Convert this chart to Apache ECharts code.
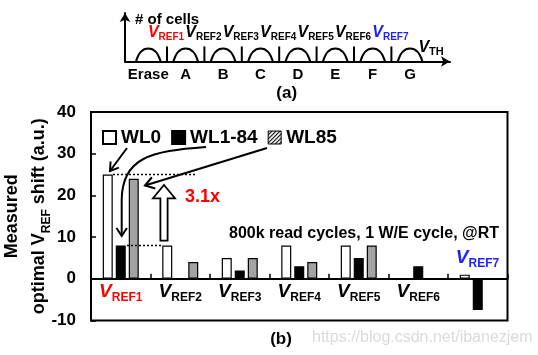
<!DOCTYPE html>
<html><head><meta charset="utf-8">
<script src="https://cdn.jsdelivr.net/npm/echarts@6.0.0/dist/echarts.min.js"></script>
<style>html,body{margin:0;padding:0;background:#fff}#c{width:538px;height:355px}</style>
</head><body><div id="c"></div>
<script>
// ---- data ----
const categories = ['VREF1', 'VREF2', 'VREF3', 'VREF4', 'VREF5', 'VREF6', 'VREF7'];
const wl0 = [25, 8, 5, 8, 8, 0, 1];
const wl1_84 = [8, 0, 2, 3, 5, 3, -7.5];
const wl85 = [24, 4, 5, 4, 8, 0, 0];
const seriesNames = ['WL0', 'WL1-84', 'WL85'];
const yMin = -10, yMax = 40, yStep = 10;
const states = ['Erase', 'A', 'B', 'C', 'D', 'E', 'F', 'G'];
const refSubs = ['REF1', 'REF2', 'REF3', 'REF4', 'REF5', 'REF6', 'REF7'];
const annotation = '800k read cycles, 1 W/E cycle, @RT';
const ratioText = '3.1x';

const FF = 'Liberation Sans, Arial, sans-serif';
const RED = '#ff0000', BLUE = '#1f1fff';
const GRID_TOP = 112, GRID_BOTTOM_PX = 320.5;

// hatch pattern for WL85 legend icon
const pc = document.createElement('canvas'); pc.width = 4; pc.height = 4;
const g = pc.getContext('2d');
g.fillStyle = '#fff'; g.fillRect(0, 0, 4, 4);
g.strokeStyle = '#000'; g.lineWidth = 1.1; g.beginPath();
g.moveTo(0, 4); g.lineTo(4, 0); g.moveTo(-1, 1); g.lineTo(1, -1); g.moveTo(3, 5); g.lineTo(5, 3);
g.stroke();

const chart = echarts.init(document.getElementById('c'), null, {renderer: 'canvas'});

function richV(vSize, sSize, color, padB, italic) {
  return {
    v: {fontSize: vSize, fontWeight: 'bold', fontStyle: italic ? 'italic' : 'normal', color: color, fill: color, fontFamily: FF, lineHeight: vSize + 1, padding: [0, 0, padB, 0]},
    s: {fontSize: sSize, fontWeight: 'bold', color: color, fill: color, fontFamily: FF, lineHeight: sSize, verticalAlign: 'bottom'}
  };
}
function addRich(target, src, suffix) { Object.entries(src).forEach(([k, v]) => target[k + suffix] = v); return target; }

const richBottom = {};
addRich(richBottom, richV(19, 12, '#000', 4, true), '');
addRich(richBottom, richV(19, 12, RED, 4, true), 'r');

const topRich = {};
addRich(topRich, richV(16, 10, '#000', 2, true), '');
addRich(topRich, richV(16, 10, RED, 2, true), 'r');
addRich(topRich, richV(16, 10, BLUE, 2, true), 'b');
topRich.t = {fontSize: 11, fontWeight: 'bold', color: '#000', fill: '#000', fontFamily: FF, lineHeight: 11, verticalAlign: 'bottom'};

function chevron(tx, ty, fx, fy, size) {
  const dx = tx - fx, dy = ty - fy, L = Math.hypot(dx, dy);
  const ux = dx / L, uy = dy / L, nx = -uy, ny = ux;
  return {type: 'polyline', shape: {points: [
    [tx - ux * size + nx * size * 0.65, ty - uy * size + ny * size * 0.65],
    [tx, ty],
    [tx - ux * size - nx * size * 0.65, ty - uy * size - ny * size * 0.65]]},
    style: {stroke: '#000', lineWidth: 2, fill: null}, z: 100};
}

const option = {
  animation: false,
  textStyle: {fontFamily: FF},
  grid: [
    {left: 91, right: 30.5, top: GRID_TOP, bottom: 355 - GRID_BOTTOM_PX, show: true, borderColor: '#000', borderWidth: 2, outerBoundsMode: 'none', containLabel: false},
    {left: 125, top: 13, width: 325, height: 48.5, show: false, outerBoundsMode: 'none', containLabel: false}
  ],
  legend: {
    left: 97, top: 123, itemWidth: 13, itemHeight: 13, itemGap: 10,
    icon: 'rect',
    textStyle: {fontSize: 19, fontWeight: 'bold', color: '#000', fontFamily: FF},
    data: [
      {name: seriesNames[0]},
      {name: seriesNames[1]},
      {name: seriesNames[2], itemStyle: {color: {image: pc, repeat: 'repeat'}, borderColor: '#000', borderWidth: 1}}
    ]
  },
  xAxis: [
    {
      type: 'category', data: categories, gridIndex: 0,
      // place the axis on the zero line of the value axis
      offset: -(GRID_BOTTOM_PX - GRID_TOP) * (0 - yMin) / (yMax - yMin),
      axisLine: {onZero: false, lineStyle: {color: '#000', width: 2}},
      axisTick: {show: true, inside: true, length: 5, lineStyle: {color: '#000', width: 1.5}},
      axisLabel: {
        margin: 5, interval: 0,
        formatter: function (v, i) {
          if (i === categories.length - 1) return '';
          const s = refSubs[i];
          return i === 0 ? '{vr|V}{sr|' + s + '}' : '{v|V}{s|' + s + '}';
        },
        rich: richBottom
      },
      splitLine: {show: false}
    },
    {
      type: 'value', gridIndex: 1, min: -0.123, max: 8.567,
      axisLine: {onZero: false, symbol: ['none', 'arrow'], symbolSize: [8, 9], lineStyle: {color: '#000', width: 2}},
      axisTick: {show: false}, axisLabel: {show: false}, splitLine: {show: false}
    }
  ],
  yAxis: [
    {
      type: 'value', gridIndex: 0, min: yMin, max: yMax, interval: yStep,
      axisLine: {show: true, lineStyle: {color: '#000', width: 2}},
      axisTick: {show: true, inside: true, length: 5, lineStyle: {color: '#000', width: 1.5}},
      axisLabel: {fontSize: 17, fontWeight: 'bold', color: '#000', margin: 15, fontFamily: FF},
      splitLine: {show: false},
      name: '{m|Measured}\n{o|optimal }{v|V}{s|REF}{o| shift (a.u.)}',
      nameLocation: 'middle', nameRotate: 90, nameGap: 38, nameMoveOverlap: false,
      nameTextStyle: {
        rich: {
          m: {fontSize: 18, fontWeight: 'bold', color: '#000', fontFamily: FF, lineHeight: 27},
          o: {fontSize: 18, fontWeight: 'bold', color: '#000', fontFamily: FF, lineHeight: 27},
          v: {fontSize: 18, fontWeight: 'bold', color: '#000', fontFamily: FF, lineHeight: 27},
          s: {fontSize: 12, fontWeight: 'bold', color: '#000', fontFamily: FF, lineHeight: 21, verticalAlign: 'bottom'}
        }
      }
    },
    {
      type: 'value', gridIndex: 1, min: 0, max: 1,
      axisLine: {show: true, onZero: false, symbol: ['none', 'arrow'], symbolSize: [8, 9], lineStyle: {color: '#000', width: 2}},
      axisTick: {show: false}, axisLabel: {show: false}, splitLine: {show: false}
    }
  ],
  series: [
    {name: seriesNames[0], type: 'bar', data: wl0, barWidth: 10, barGap: '30%',
     itemStyle: {color: '#fff', borderColor: '#000', borderWidth: 1.2}},
    {name: seriesNames[1], type: 'bar', data: wl1_84, barWidth: 10, barGap: '30%',
     itemStyle: {color: '#000', borderColor: '#000', borderWidth: 1.2}},
    {name: seriesNames[2], type: 'bar', data: wl85, barWidth: 10, barGap: '30%',
     itemStyle: {color: '#a3a3a3', borderColor: '#000', borderWidth: 1.2}},
    {
      type: 'custom', xAxisIndex: 1, yAxisIndex: 1, silent: true,
      data: states.map((s, i) => [i + 0.5, 0]),
      renderItem: function (params, api) {
        const i = params.dataIndex;
        const c = i + 0.5;
        const h = 0.27;
        const p0 = api.coord([c - 0.33, 0]), p1 = api.coord([c + 0.33, 0]);
        const c1 = api.coord([c - 0.2, h / 0.75]), c2 = api.coord([c + 0.2, h / 0.75]);
        const base = api.coord([c, 0]);
        const children = [
          {type: 'bezierCurve', shape: {x1: p0[0], y1: p0[1], x2: p1[0], y2: p1[1], cpx1: c1[0], cpy1: c1[1], cpx2: c2[0], cpy2: c2[1]},
           style: {stroke: '#000', lineWidth: 2, fill: null}},
          {type: 'text', style: {text: states[i], x: base[0], y: base[1] + 13.5, align: 'center', verticalAlign: 'middle',
            font: 'bold 15px ' + FF, fill: '#000'}}
        ];
        if (i < states.length - 1) {
          const s0 = api.coord([i + 1, 0]), s1 = api.coord([i + 1, 0.31]);
          children.push({type: 'line', shape: {x1: s0[0], y1: s0[1], x2: s1[0], y2: s1[1]}, style: {stroke: '#000', lineWidth: 2}});
          const suf = i === 0 ? 'r' : (i === 6 ? 'b' : '');
          children.push({type: 'text', style: {text: '{v' + suf + '|V}{s' + suf + '|' + refSubs[i] + '}', rich: topRich,
            x: s0[0] - 1, y: s0[1] - 36, align: 'center', verticalAlign: 'top'}});
        } else {
          children.push({type: 'text', style: {text: '{v|V}{t|TH}', rich: topRich,
            x: base[0] + 21, y: base[1] - 21, align: 'center', verticalAlign: 'top'}});
        }
        return {type: 'group', children: children};
      },
      z: 10
    }
  ],
  graphic: [
    // VREF7 label (blue, above bars)
    {type: 'text', style: {text: '{vb|V}{sb|REF7}', rich: addRich({}, richV(19, 12, BLUE, 4, true), 'b'),
      x: 477.5, y: 250, align: 'center', verticalAlign: 'top'}, z: 100},
    {type: 'text', style: {text: '(a)', x: 286.7, y: 93.5, align: 'center', verticalAlign: 'middle', font: 'bold 17px ' + FF, fill: '#000'}},
    {type: 'text', style: {text: '# of cells', x: 135, y: 20, align: 'left', verticalAlign: 'middle', font: 'bold 15px ' + FF, fill: '#000'}},
    {type: 'text', style: {text: '(b)', x: 281, y: 339, align: 'center', verticalAlign: 'middle', font: 'bold 17px ' + FF, fill: '#000'}},
    {type: 'text', style: {text: 'https://blog.csdn.net/ibanezjem', x: 312, y: 338, align: 'left', verticalAlign: 'middle', font: '16px ' + FF, fill: '#dadada'}},
    {type: 'text', style: {text: annotation, x: 499, y: 234, align: 'right', verticalAlign: 'middle', font: 'bold 16px ' + FF, fill: '#000'}, z: 100},
    {type: 'text', style: {text: ratioText, x: 185, y: 197, align: 'left', verticalAlign: 'middle', font: 'bold 18px ' + FF, fill: RED}, z: 100},
    // dotted lines
    {type: 'line', shape: {x1: 113, y1: 174.5, x2: 196, y2: 174.5}, style: {stroke: '#000', lineWidth: 1.5, lineDash: [2, 2]}, z: 100},
    {type: 'line', shape: {x1: 127, y1: 245.4, x2: 161, y2: 245.4}, style: {stroke: '#000', lineWidth: 1.5, lineDash: [2, 2]}, z: 100},
    // arrow 1 (WL0)
    {type: 'line', shape: {x1: 127, y1: 148, x2: 110, y2: 171}, style: {stroke: '#000', lineWidth: 2}, z: 100},
    chevron(110, 171, 127, 148, 8),
    // arrow 2 (WL1-84) curved
    {type: 'bezierCurve', shape: {x1: 206, y1: 147, cpx1: 150, cpy1: 151, cpx2: 122, cpy2: 158, x2: 121.7, y2: 200}, style: {stroke: '#000', lineWidth: 2, fill: null}, z: 100},
    {type: 'line', shape: {x1: 121.7, y1: 200, x2: 121.7, y2: 236}, style: {stroke: '#000', lineWidth: 2}, z: 100},
    chevron(121.7, 236, 121.7, 200, 8),
    // arrow 3 (WL85)
    {type: 'line', shape: {x1: 267, y1: 148, x2: 145, y2: 185.5}, style: {stroke: '#000', lineWidth: 2}, z: 100},
    chevron(145, 185.5, 267, 148, 9),
    // hollow up arrow
    {type: 'polygon', shape: {points: [[164, 185], [175, 198.3], [167.6, 198.3], [167.6, 240.7], [160.4, 240.7], [160.4, 198.3], [153, 198.3]]},
     style: {fill: '#fff', stroke: '#000', lineWidth: 1.8}, z: 100}
  ]
};
chart.setOption(option);
</script>
</body></html>
